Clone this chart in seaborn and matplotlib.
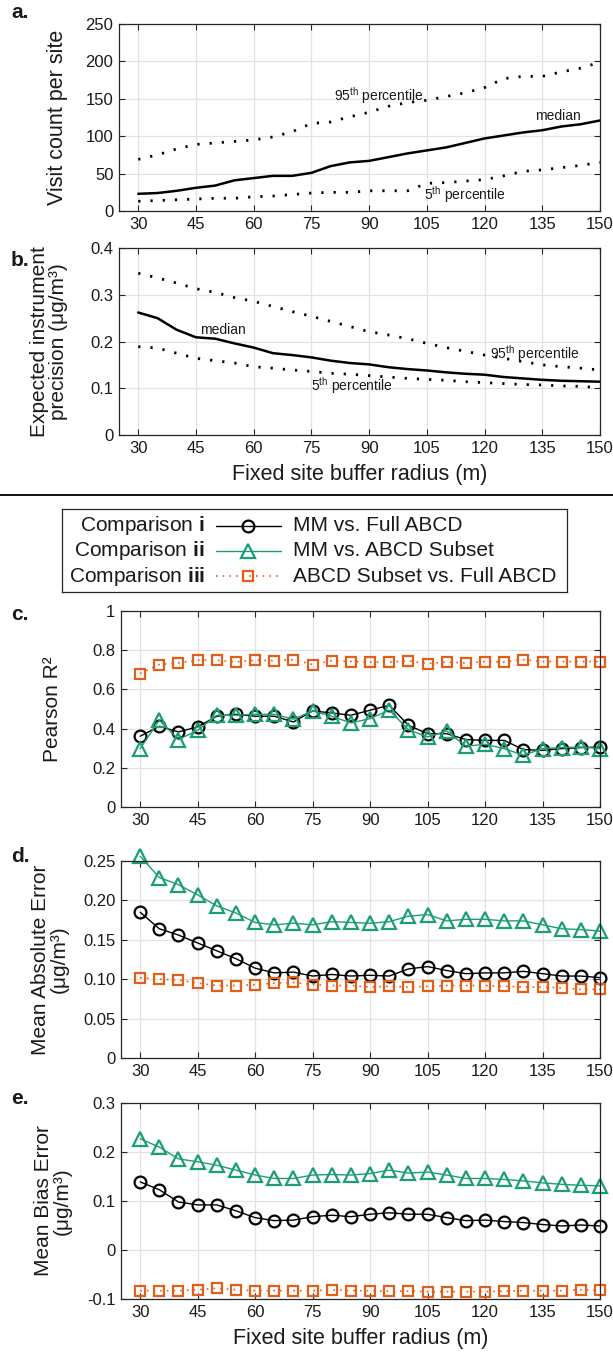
import matplotlib
matplotlib.use("Agg")
import matplotlib.pyplot as plt
from matplotlib.lines import Line2D
import pandas as pd
import seaborn as sns

# buffer radius (m)
radius = [30, 35, 40, 45, 50, 55, 60, 65, 70, 75, 80, 85, 90,
          95, 100, 105, 110, 115, 120, 125, 130, 135, 140, 145, 150]

# panel a - visit count per site
visits_median = [23, 24, 27, 31, 34, 41, 44, 47, 47, 51, 60, 65, 67,
                 72, 77, 81, 85, 91, 97, 101, 105, 108, 113, 116, 121]
visits_p95 = [69, 75, 83, 89, 91, 93, 95, 99, 106, 117, 119, 126, 132,
              140, 145, 148, 153, 158, 165, 177, 180, 180, 186, 191, 199]
visits_p5 = [13, 14, 15, 16, 17, 17, 19, 20, 22, 24, 25, 25, 27,
             27, 27, 37, 38, 40, 42, 47, 53, 55, 58, 61, 65]

# panel b - expected instrument precision
prec_median = [0.262, 0.250, 0.225, 0.209, 0.206, 0.196, 0.187, 0.175, 0.171,
               0.166, 0.159, 0.154, 0.151, 0.145, 0.141, 0.138, 0.134, 0.131,
               0.129, 0.124, 0.121, 0.118, 0.116, 0.115, 0.114]
prec_p95 = [0.346, 0.336, 0.325, 0.313, 0.305, 0.294, 0.286, 0.275, 0.264,
            0.254, 0.243, 0.232, 0.221, 0.214, 0.206, 0.196, 0.187, 0.179,
            0.171, 0.164, 0.157, 0.150, 0.146, 0.143, 0.139]
prec_p5 = [0.189, 0.186, 0.175, 0.164, 0.159, 0.154, 0.146, 0.143, 0.139,
           0.136, 0.132, 0.130, 0.127, 0.124, 0.121, 0.119, 0.117, 0.114,
           0.112, 0.110, 0.108, 0.107, 0.105, 0.104, 0.101]

# panel c - Pearson R2
r2_i = [0.361, 0.412, 0.383, 0.409, 0.463, 0.473, 0.463, 0.463, 0.434, 0.490,
        0.480, 0.468, 0.494, 0.519, 0.417, 0.374, 0.374, 0.344, 0.340, 0.340,
        0.293, 0.289, 0.298, 0.303, 0.306]
r2_ii = [0.298, 0.443, 0.344, 0.391, 0.468, 0.468, 0.473, 0.473, 0.448, 0.490,
         0.463, 0.429, 0.451, 0.494, 0.395, 0.357, 0.388, 0.310, 0.320, 0.298,
         0.264, 0.298, 0.303, 0.306, 0.298]
r2_iii = [0.681, 0.727, 0.735, 0.749, 0.749, 0.740, 0.749, 0.746, 0.752, 0.727,
          0.746, 0.742, 0.739, 0.739, 0.746, 0.732, 0.739, 0.735, 0.742, 0.739,
          0.752, 0.742, 0.742, 0.742, 0.742]

# panel d - mean absolute error
mae_i = [0.185, 0.164, 0.156, 0.146, 0.136, 0.126, 0.114, 0.108, 0.109, 0.104,
         0.106, 0.104, 0.105, 0.104, 0.113, 0.116, 0.111, 0.107, 0.108, 0.108,
         0.110, 0.107, 0.104, 0.104, 0.102]
mae_ii = [0.256, 0.229, 0.220, 0.207, 0.193, 0.184, 0.172, 0.169, 0.171, 0.169,
          0.173, 0.172, 0.171, 0.173, 0.180, 0.182, 0.174, 0.176, 0.176, 0.174,
          0.174, 0.169, 0.164, 0.163, 0.161]
mae_iii = [0.102, 0.100, 0.099, 0.095, 0.092, 0.092, 0.093, 0.095, 0.096, 0.093,
           0.092, 0.092, 0.090, 0.091, 0.090, 0.091, 0.092, 0.092, 0.092, 0.091,
           0.090, 0.090, 0.089, 0.087, 0.087]

# panel e - mean bias error
mbe_i = [0.139, 0.123, 0.098, 0.092, 0.092, 0.080, 0.066, 0.060, 0.061, 0.068,
         0.071, 0.068, 0.073, 0.076, 0.073, 0.073, 0.066, 0.060, 0.061, 0.058,
         0.056, 0.052, 0.049, 0.051, 0.049]
mbe_ii = [0.227, 0.210, 0.186, 0.180, 0.173, 0.163, 0.153, 0.146, 0.146, 0.153,
          0.154, 0.153, 0.156, 0.163, 0.157, 0.159, 0.153, 0.146, 0.146, 0.144,
          0.141, 0.137, 0.134, 0.132, 0.131]
mbe_iii = [-0.083, -0.083, -0.083, -0.081, -0.078, -0.081, -0.083, -0.083, -0.083,
           -0.083, -0.081, -0.083, -0.083, -0.084, -0.084, -0.085, -0.085, -0.085,
           -0.085, -0.084, -0.083, -0.083, -0.083, -0.081, -0.082]

x_ticks = [30, 45, 60, 75, 90, 105, 120, 135, 150]
a_yticks = [0, 50, 100, 150, 200, 250]
b_yticks = [0, 0.1, 0.2, 0.3, 0.4]
b_yticklabels = ["0", "0.1", "0.2", "0.3", "0.4"]
c_yticks = [0, 0.2, 0.4, 0.6, 0.8, 1]
c_yticklabels = ["0", "0.2", "0.4", "0.6", "0.8", "1"]
d_yticks = [0, 0.05, 0.10, 0.15, 0.20, 0.25]
d_yticklabels = ["0", "0.05", "0.10", "0.15", "0.20", "0.25"]
e_yticks = [-0.1, 0, 0.1, 0.2, 0.3]
e_yticklabels = ["-0.1", "0", "0.1", "0.2", "0.3"]

comparisons = ["i", "ii", "iii"]
comparison_names = ["MM vs. Full ABCD", "MM vs. ABCD Subset", "ABCD Subset vs. Full ABCD"]

sns.set_theme(style="whitegrid")
plt.rcParams["font.family"] = ["Liberation Sans", "DejaVu Sans"]
plt.rcParams["mathtext.fontset"] = "custom"
plt.rcParams["mathtext.rm"] = "Liberation Sans"
plt.rcParams["mathtext.it"] = "Liberation Sans:italic"
plt.rcParams["mathtext.bf"] = "Liberation Sans:bold"

TXT = "#1a1a1a"
GREEN = "#1b9e77"
ORANGE = "#e0601a"
W, H = 613, 1353

# marker / line style for each comparison
styles = {
    "i": dict(color="black", marker="o", ms=8.5, linestyle="-", lw=1.0),
    "ii": dict(color=GREEN, marker="^", ms=10, linestyle="-", lw=1.0),
    "iii": dict(color=ORANGE, marker="s", ms=7, linestyle=(0, (1, 3)), lw=1.2),
}


def px_rect(left, top, right, bottom):
    return [left / W, 1 - bottom / H, (right - left) / W, (bottom - top) / H]


def style_axes(ax, yticks, yticklabels, ylim):
    ax.set_xlim(25, 150)
    ax.set_xticks(x_ticks)
    ax.set_xticklabels([str(t) for t in x_ticks])
    ax.set_ylim(*ylim)
    ax.set_yticks(yticks)
    ax.set_yticklabels(yticklabels)
    ax.set_facecolor("white")
    ax.grid(True, color="#e2e2e2", lw=0.9)
    ax.set_axisbelow(True)
    for s in ax.spines.values():
        s.set_visible(True)
        s.set_color("#262626")
        s.set_linewidth(0.9)
    ax.tick_params(direction="in", length=4, width=0.8, color="#262626",
                   bottom=True, left=True, top=True, right=True,
                   labelsize=12, labelcolor=TXT, pad=4)
    ax.set_xlabel("")


fig = plt.figure(figsize=(W / 100, H / 100), dpi=100)
fig.patch.set_facecolor("white")

# ---- panel a ----
ax_a = fig.add_axes(px_rect(119, 24, 600, 211))
df_a = pd.DataFrame({"radius": radius, "median": visits_median,
                     "p95": visits_p95, "p5": visits_p5})
sns.lineplot(data=df_a, x="radius", y="median", ax=ax_a, color="black", lw=1.8)
sns.lineplot(data=df_a, x="radius", y="p95", ax=ax_a, color="black", lw=2.0,
             linestyle=(0, (0.8, 3.6)))
sns.lineplot(data=df_a, x="radius", y="p5", ax=ax_a, color="black", lw=2.0,
             linestyle=(0, (0.8, 3.6)))
style_axes(ax_a, a_yticks, [str(t) for t in a_yticks], (0, 250))
ax_a.set_ylabel("Visit count per site", fontsize=15.5, color=TXT, va="center")
ax_a.yaxis.set_label_coords(-0.127, 0.5)
ax_a.text(92.5, 155, "95$^{\\mathrm{th}}$ percentile", fontsize=10, ha="center", va="center", color=TXT)
ax_a.text(139, 127, "median", fontsize=10, ha="center", va="center", color=TXT)
ax_a.text(115, 22, "5$^{\\mathrm{th}}$ percentile", fontsize=10, ha="center", va="center", color=TXT)

# ---- panel b ----
ax_b = fig.add_axes(px_rect(119, 248, 600, 435))
df_b = pd.DataFrame({"radius": radius, "median": prec_median,
                     "p95": prec_p95, "p5": prec_p5})
sns.lineplot(data=df_b, x="radius", y="median", ax=ax_b, color="black", lw=1.8)
sns.lineplot(data=df_b, x="radius", y="p95", ax=ax_b, color="black", lw=2.0,
             linestyle=(0, (0.8, 3.6)))
sns.lineplot(data=df_b, x="radius", y="p5", ax=ax_b, color="black", lw=2.0,
             linestyle=(0, (0.8, 3.6)))
style_axes(ax_b, b_yticks, b_yticklabels, (0, 0.4))
ax_b.set_ylabel("Expected instrument\nprecision (\u03bcg/m\u00b3)", fontsize=15,
                color=TXT, va="center", linespacing=1.0)
ax_b.yaxis.set_label_coords(-0.146, 0.5)
ax_b.set_xlabel("Fixed site buffer radius (m)", fontsize=15.5, color=TXT, labelpad=6)
ax_b.text(52, 0.224, "median", fontsize=10, ha="center", va="center", color=TXT)
ax_b.text(133, 0.175, "95$^{\\mathrm{th}}$ percentile", fontsize=10, ha="center", va="center", color=TXT)
ax_b.text(85.5, 0.106, "5$^{\\mathrm{th}}$ percentile", fontsize=10, ha="center", va="center", color=TXT)

# separator between the two figure halves
fig.add_artist(Line2D([0, 1], [1 - 495 / H, 1 - 495 / H], color="black", lw=1.3))

# ---- comparison panels c, d, e ----
panels = [
    ("c", px_rect(121, 611, 600, 807), [r2_i, r2_ii, r2_iii], c_yticks, c_yticklabels,
     (0, 1), "Pearson R\u00b2", -0.142),
    ("d", px_rect(121, 861, 600, 1058), [mae_i, mae_ii, mae_iii], d_yticks, d_yticklabels,
     (0, 0.25), "Mean Absolute Error\n(\u03bcg/m\u00b3)", -0.148),
    ("e", px_rect(121, 1103, 600, 1299), [mbe_i, mbe_ii, mbe_iii], e_yticks, e_yticklabels,
     (-0.1, 0.3), "Mean Bias Error\n(\u03bcg/m\u00b3)", -0.1425),
]
axes_cde = {}
for name, rect, series, yt, ytl, ylim, ylab, lx in panels:
    ax = fig.add_axes(rect)
    for comp, vals in zip(comparisons, series):
        st = styles[comp]
        df = pd.DataFrame({"radius": radius, "value": vals})
        sns.lineplot(data=df, x="radius", y="value", ax=ax, color=st["color"],
                     marker=st["marker"], markersize=st["ms"], markerfacecolor="none",
                     markeredgecolor=st["color"], markeredgewidth=1.6,
                     linestyle=st["linestyle"], lw=st["lw"], clip_on=False)
    style_axes(ax, yt, ytl, ylim)
    ax.set_ylabel(ylab, fontsize=15, color=TXT, va="center", linespacing=1.0)
    ax.yaxis.set_label_coords(lx, 0.5)
    axes_cde[name] = ax
axes_cde["e"].set_xlabel("Fixed site buffer radius (m)", fontsize=15.5, color=TXT, labelpad=6)

# ---- legend box ----
ax_leg = fig.add_axes(px_rect(62, 509, 567, 592))
ax_leg.set_xlim(0, 1)
ax_leg.set_ylim(0, 1)
ax_leg.set_xticks([])
ax_leg.set_yticks([])
ax_leg.grid(False)
ax_leg.set_facecolor("white")
for s in ax_leg.spines.values():
    s.set_visible(True)
    s.set_color("#262626")
    s.set_linewidth(0.9)
rows = [0.80, 0.50, 0.19]
for comp, label, yr in zip(comparisons, comparison_names, rows):
    st = styles[comp]
    ax_leg.text(0.283, yr, "Comparison $\\mathbf{%s}$" % comp, fontsize=15,
                ha="right", va="center", color=TXT)
    ax_leg.plot([0.305, 0.369, 0.434], [yr, yr, yr], color=st["color"],
                linestyle=st["linestyle"], lw=st["lw"], marker=st["marker"],
                markevery=[1], ms=st["ms"], mfc="none", mec=st["color"], mew=1.6)
    ax_leg.text(0.457, yr, label, fontsize=15, ha="left", va="center", color=TXT)

# panel letters
for letter, yp in zip(["a.", "b.", "c.", "d.", "e."], [12, 260, 614, 857, 1098]):
    fig.text(11 / W, 1 - yp / H, letter, fontsize=15, fontweight="bold",
             ha="left", va="center", color=TXT)

fig.savefig("out.png", dpi=100)
